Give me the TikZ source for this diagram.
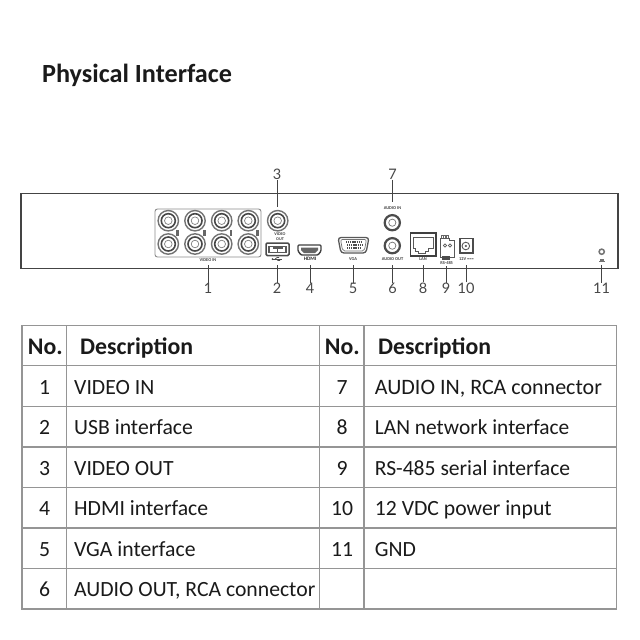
\documentclass[tikz,border=0pt]{standalone}
\usepackage{fontspec}
\setmainfont{Carlito}
\newfontfamily\numfont{Lato}
\definecolor{ink}{HTML}{1A1A1A}
\definecolor{devline}{HTML}{444444}
\definecolor{gridline}{HTML}{959595}
\tikzset{
  x=1pt,y=-1pt,
  title/.style={font=\fontsize{26.2}{30}\selectfont\bfseries,text=ink,anchor=base west,inner sep=0},
  headtxt/.style={font=\fontsize{23.8}{28}\selectfont\bfseries,text=ink,inner sep=0,anchor=base},
  celltxt/.style={font=\fontsize{21.7}{26}\selectfont,text=ink,inner sep=0,anchor=base},
  celll/.style={celltxt,anchor=base west},
  callout/.style={font=\numfont\fontsize{14.5}{16}\selectfont,text=black!72,inner sep=0},
  tiny/.style={font=\fontsize{4.4}{4.6}\selectfont\bfseries,text=black!75,inner sep=0,align=center},
  lead/.style={draw=devline,line width=1pt},
  device/.style={draw=devline,line width=1.3pt},
  grid/.style={draw=gridline,line width=1.1pt},
  port/.style={draw=devline,line width=1.1pt,fill=white},
  thinport/.style={draw=devline,line width=.7pt},
}
\newcommand{\bnc}[2]{%
  \draw[port,draw=black!55,line width=1.4pt] (#1,#2) circle (10.2);
  \draw[port,draw=black!72,line width=1.6pt] (#1,#2) circle (7);
  \draw[thinport,draw=black!50] (#1,#2) circle (3.8);
}
\newcommand{\rca}[2]{%
  \draw[port,draw=black!70,line width=2.2pt] (#1,#2) circle (7.6);
  \draw[thinport,draw=black!55] (#1,#2) circle (3.6);
}
\begin{document}
\begin{tikzpicture}
\useasboundingbox (0,0) rectangle (640,640);
\fill[white] (0,0) rectangle (640,640);
\node[title] (ttl) at (42,82.3) {Physical Interface};

% device outline
\draw[device] (21,193.5) rectangle (618,268.5);

% video in block
\draw[draw=black!45,line width=.9pt,rounded corners=2.5] (155,209) rectangle (261,257);
\foreach \cx in {168.3,195,221.7,248.3}{\bnc{\cx}{220.7}\bnc{\cx}{244}}
\foreach \cx in {177.7,204.3,231,257.6}{\fill[black!60] (\cx-1.4,229.5) rectangle (\cx+1.4,236);}
\node[tiny] (lvin) at (208,260) {VIDEO IN};

% video out
\bnc{277.7}{220.7}
\node[tiny,font=\fontsize{4.2}{4.3}\selectfont\bfseries] (lvout) at (280,236.5) {VIDEO\\OUT};

% USB
\draw[draw=black!70,line width=1.5pt,rounded corners=1.2] (266,243) rectangle (289,255.5);
\draw[draw=black!65,line width=1.6pt] (269,246.5) rectangle (286,252.5);
\fill[black!65] (273,246) rectangle (283,249);
\draw[black!65,line width=.7pt] (277,249) -- (277,253);
% USB mark
\draw[black!70,line width=.7pt] (272,259) -- (282,259);
\fill[black!70] (272.5,259) circle (1);
\draw[black!70,line width=.6pt] (275,259) -- (277,257.5) -- (279,257.5) (276,259) -- (278,260.5) -- (280,260.5);

% HDMI
\draw[draw=black!75,line width=1.4pt,rounded corners=1] (298,245) -- (321,245) -- (321,251) -- (318,255) -- (301,255) -- (298,251) -- cycle;
\fill[black!60] (301,247.5) -- (318,247.5) -- (318,250) -- (315,253) -- (304,253) -- (301,250) -- cycle;
\node[tiny,font=\fontsize{5.2}{5.4}\selectfont\bfseries,text=black!85] (lhdmi) at (310,259) {HDMI};

% VGA
\draw[draw=black!65,line width=1.3pt,rounded corners=3] (338,237.5) -- (369,237.5) -- (366,253) -- (341,253) -- cycle;
\draw[draw=black!55,line width=.7pt,rounded corners=2] (340.5,239.5) -- (366.5,239.5) -- (364.3,251) -- (342.7,251) -- cycle;
\foreach \r/\a/\b in {242/346/361,245/347/362,248/347/361}{
  \draw[black!70,line width=1.6pt,dash pattern=on 1.2pt off .9pt] (\a,\r) -- (\b,\r);}
\node[tiny] (lvga) at (353,259) {VGA};

% audio
\node[tiny] (lain) at (392.5,208) {AUDIO IN};
\rca{392.3}{222.7}
\rca{392.3}{245.7}
\node[tiny] (laout) at (392.5,259) {AUDIO OUT};

% LAN
\draw[draw=black!75,line width=1.3pt] (410.5,233) rectangle (436,256);
\draw[draw=black!65,line width=.8pt] (413,237) -- (433.5,237) -- (433.5,248) -- (428,248) -- (428,251) -- (425.5,251) -- (425.5,253.5) -- (418,253.5) -- (418,251) -- (415.5,251) -- (415.5,248) -- (413,248) -- cycle;
\node[tiny] (llan) at (423,259) {LAN};

% RS-485
\fill[black!60] (440.5,234.5) rectangle (449,240);
\foreach \tx in {442,444.5,447}{\fill[white] (\tx-.5,235.5) rectangle (\tx+.5,239);}
\draw[draw=black!65,line width=1pt,fill=white] (440.7,238) -- (449,238) -- (449,240) -- (454,240) -- (454,257) -- (440.7,257) -- cycle;
\draw[draw=black!65,line width=.8pt] (445,245.5) circle (1.6) (450,245.5) circle (1.6);
\fill[black!70] (441.5,256) rectangle (449.5,259.5);
\node[tiny] (lrs) at (446.7,262.5) {RS-485};

% power
\draw[draw=black!70,line width=1.1pt] (460,238.5) rectangle (473,253);
\draw[draw=black!65,line width=.9pt] (465.8,246) circle (3.8);
\fill[black!65] (465.8,246) circle (1.2);
\node[tiny] (lpwr) at (466.5,259.5) {12V ===};

% GND
\draw[draw=black!55,line width=1.5pt] (601.7,251.7) circle (2.6);
\fill[black!55] (598.5,260.5) rectangle (605,261.3);
\fill[black!55] (600,258.5) rectangle (603.5,260.5);

% callouts
\foreach \nm/\cx/\ncy/\ey/\txt in {
  n1/208/288/265/1,n2/277/288/265/2,n4/310/288/265/4,n5/353/288/265/5,
  n6/392.5/288/265/6,n8/423/288/265/8,n9/446/288/266/9,n10/466/288/265/10,
  n11/601.5/288/265/11,n3/277/174.5/206.5/3,n7/392.5/174.5/202/7}{
  \node[callout] (\nm) at (\cx,\ncy) {\txt};
  \coordinate (\nm e) at (\cx,\ey);
  \draw[lead] (\nm) -- (\nm e);
}

% table
\draw[grid] (22,325.8) rectangle (616.5,609);
\foreach \ry in {365.8,406.2,447,487.5,528,568.5}{\draw[grid] (22,\ry) -- (616.5,\ry);}
\foreach \cx in {66.8,319.5,364}{\draw[grid] (\cx,325.8) -- (\cx,609);}

\node[headtxt] (hno1) at (45.3,354.3) {No.};
\node[headtxt,anchor=base west] (hde1) at (80,354.3) {Description};
\node[headtxt] (hno2) at (342.3,354.3) {No.};
\node[headtxt,anchor=base west] (hde2) at (378,354.3) {Description};

\foreach \nm/\ry/\a/\b in {
  a/394/1/VIDEO IN,
  b/434.5/2/USB interface,
  c/475/3/VIDEO OUT,
  d/515.5/4/HDMI interface,
  e/556/5/VGA interface,
  f/596.5/6/{AUDIO OUT, RCA connector}}{
  \node[celltxt] (\nm n) at (44.5,\ry) {\a};
  \node[celll] (\nm d) at (74,\ry) {\b};
}
\foreach \nm/\ry/\a/\b in {
  g/394/7/{\fontsize{22}{26}\selectfont AUDIO IN, RCA connector},
  h/434.5/8/{\fontsize{21.4}{26}\selectfont LAN network interface},
  i/475/9/{\fontsize{21.6}{26}\selectfont RS-485 serial interface},
  j/515.5/10/12 VDC power input,
  k/556/11/GND}{
  \node[celltxt] (\nm n) at (342,\ry) {\a};
  \node[celll] (\nm d) at (374.7,\ry) {\b};
}
\end{tikzpicture}
\end{document}
